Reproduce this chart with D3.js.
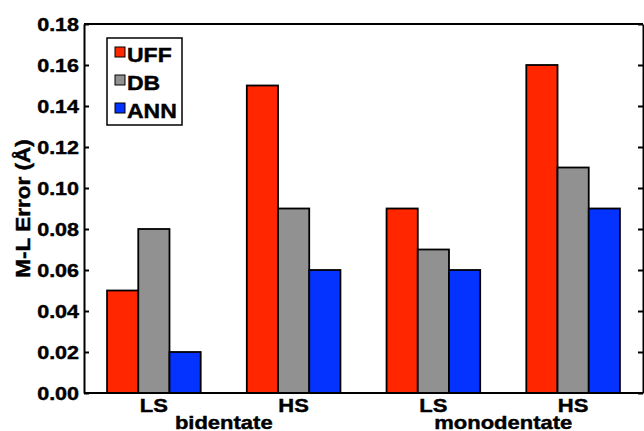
<!DOCTYPE html>
<html>
<head>
<meta charset="utf-8">
<script src="https://cdn.jsdelivr.net/npm/d3@7"></script>
<style>
  body { margin: 0; background: #fff; }
  text { font-family: "Liberation Sans", Arial, sans-serif; font-weight: bold; fill: #000;
         stroke: #000; stroke-width: 0.5px; }
</style>
</head>
<body>
<script>
// values
var states = ["LS", "HS", "LS", "HS"];
var denticity = ["bidentate", "monodentate"];
var series = ["UFF", "DB", "ANN"];
var uff = [0.05, 0.15, 0.09, 0.16];
var db = [0.08, 0.09, 0.07, 0.11];
var ann = [0.02, 0.06, 0.06, 0.09];
var yTicks = [0, 0.02, 0.04, 0.06, 0.08, 0.10, 0.12, 0.14, 0.16, 0.18];

var colors = {UFF: "#ff2600", DB: "#919191", ANN: "#0433ff"};
var squash = 0.87;

var width = 644, height = 431;
var plotLeft = 84, plotRight = 643, plotTop = 24, plotBottom = 393;

var canvas = d3.select("body").append("svg")
    .attr("width", width)
    .attr("height", height);

var y = d3.scaleLinear().domain([0, 0.18]).range([plotBottom, plotTop]);
var x0 = d3.scaleBand().domain(d3.range(states.length)).range([plotLeft, plotRight])
    .paddingInner(0.33).paddingOuter(0.165);
var x1 = d3.scaleBand().domain(series).range([0, x0.bandwidth()]);

var values = {UFF: uff, DB: db, ANN: ann};

// bars
states.forEach(function(s, i){
    var g = canvas.append("g").attr("transform", "translate(" + x0(i) + ",0)");
    g.selectAll("rect")
        .data(series.map(function(k){ return {key: k, value: values[k][i]}; }))
        .enter().append("rect")
        .attr("x", function(d){ return x1(d.key); })
        .attr("y", function(d){ return y(d.value); })
        .attr("width", x1.bandwidth())
        .attr("height", function(d){ return y(0) - y(d.value); })
        .attr("fill", function(d){ return colors[d.key]; })
        .attr("stroke", "#000")
        .attr("stroke-width", 1.8);
});

// left axis
var yAxis = canvas.append("g")
    .attr("transform", "translate(" + plotLeft + ",0)")
    .call(d3.axisLeft(y).tickValues(yTicks).tickSize(-5).tickSizeOuter(0)
        .tickPadding(5).tickFormat(d3.format(".2f")));
yAxis.selectAll("text")
    .attr("font-size", 21.5)
    .attr("dy", "0.36em")
    .attr("transform", "scale(1," + squash + ")");

// right axis
canvas.append("g")
    .attr("transform", "translate(" + plotRight + ",0)")
    .call(d3.axisRight(y).tickValues(yTicks).tickSize(-5).tickSizeOuter(0).tickFormat(""));

canvas.selectAll(".domain, .tick line").attr("stroke", "#000").attr("stroke-width", 2);

// top and bottom frame
canvas.append("line").attr("x1", plotLeft).attr("x2", plotRight).attr("y1", plotTop).attr("y2", plotTop)
    .attr("stroke", "#000").attr("stroke-width", 2);
canvas.append("line").attr("x1", plotLeft).attr("x2", plotRight).attr("y1", plotBottom).attr("y2", plotBottom)
    .attr("stroke", "#000").attr("stroke-width", 2);

// category labels
states.forEach(function(s, i){
    var cx = x0(i) + x0.bandwidth() / 2;
    canvas.append("text")
        .attr("text-anchor", "middle")
        .attr("font-size", 22)
        .attr("transform", "translate(" + cx + ",411.5) scale(1," + squash + ")")
        .text(s);
});
denticity.forEach(function(d, j){
    var cx = (x0(2 * j) + x0(2 * j + 1) + x0.bandwidth()) / 2;
    canvas.append("text")
        .attr("text-anchor", "middle")
        .attr("font-size", 22)
        .attr("transform", "translate(" + cx + ",429) scale(1," + squash + ")")
        .text(d);
});

// y label
canvas.append("text")
    .attr("text-anchor", "middle")
    .attr("font-size", 22.5)
    .attr("transform", "translate(30," + ((plotTop + plotBottom) / 2) + ") rotate(-90) scale(1," + squash + ")")
    .text("M-L Error (Å)");

// legend
canvas.append("rect")
    .attr("x", 107).attr("y", 38)
    .attr("width", 75).attr("height", 87)
    .attr("fill", "#fff")
    .attr("stroke", "#000")
    .attr("stroke-width", 1.5);
series.forEach(function(k, i){
    canvas.append("rect")
        .attr("x", 115).attr("y", 47 + i * 28)
        .attr("width", 10).attr("height", 10)
        .attr("fill", colors[k])
        .attr("stroke", "#000")
        .attr("stroke-width", 1);
    canvas.append("text")
        .attr("font-size", 23)
        .attr("transform", "translate(127," + (62 + i * 28) + ") scale(1," + squash + ")")
        .text(k);
});
</script>
</body>
</html>
